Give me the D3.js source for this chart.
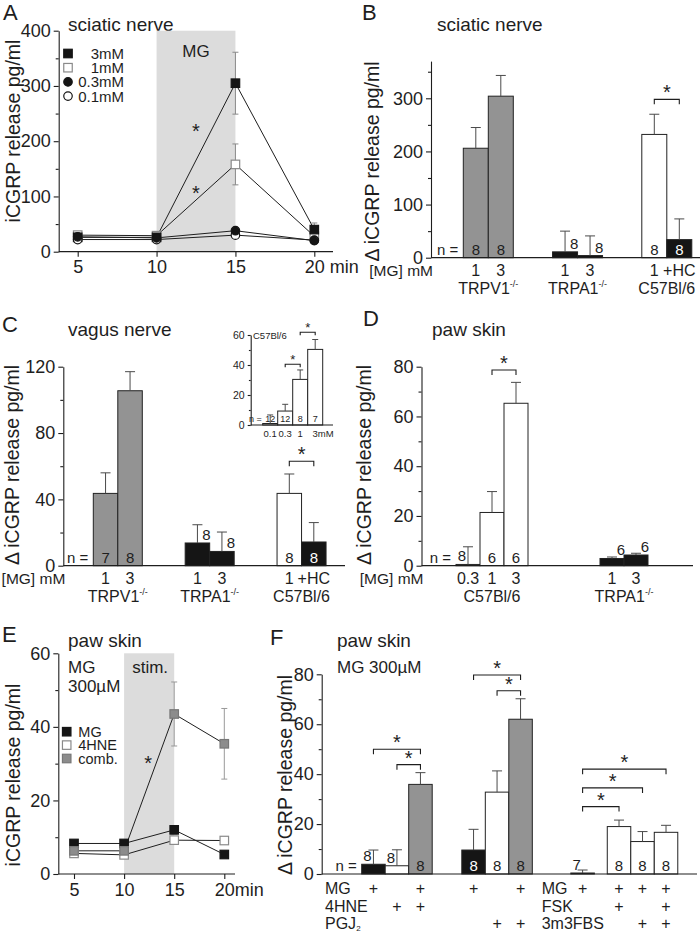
<!DOCTYPE html>
<html><head><meta charset="utf-8">
<script src="https://cdn.jsdelivr.net/npm/d3@7/dist/d3.min.js"></script>
<style>
html,body{margin:0;padding:0;background:#fff;}
svg{display:block;}
svg text{font-family:"Liberation Sans",Arial,Helvetica,sans-serif;fill:#1e1e1e;}
</style></head><body>
<svg id="fig" width="700" height="934" xmlns="http://www.w3.org/2000/svg"></svg>
<script>
// ================= DATA =================
const timePoints = [5, 10, 15, 20];

// Panel A – sciatic nerve time course (iCGRP pg/ml)
const aLabels = ["3mM", "1mM", "0.3mM", "0.1mM"];
const a3mM = [26, 26, 305, 40];
const a3mMErr = [4, 4, 56, 12];
const a1mM = [30, 29, 158, 28];
const a1mMErr = [5, 6, 37, 5];
const a03mM = [27, 25, 38, 20];
const a03mMErr = [3, 3, 4, 3];
const a01mM = [22, 22, 30, 21];
const a01mMErr = [3, 3, 4, 3];
const aYTicks = [0, 100, 200, 300, 400];
const aYMinor = [50, 150, 250, 350];

// Panel B – sciatic nerve, delta release
const bGroups = ["TRPV1", "TRPA1", "C57Bl/6"];
const bGroupSup = ["-/-", "-/-", ""];
const bGroupSizes = [2, 2, 2];
const bDose = ["1", "3", "1", "3", "1", "+HC"];
const bValues = [206, 304, 11, 4, 232, 34];
const bErr = [39, 39, 39, 37, 38, 39];
const bN = [8, 8, 8, 8, 8, 8];
const bYTicks = [0, 100, 200, 300];
const bYMinor = [50, 150, 250, 350];
const bSig = [[4, 5, 298]];

// Panel C – vagus nerve
const cGroups = ["TRPV1", "TRPA1", "C57Bl/6"];
const cGroupSup = ["-/-", "-/-", ""];
const cGroupSizes = [2, 2, 2];
const cDose = ["1", "3", "1", "3", "1", "+HC"];
const cValues = [43.6, 105.5, 13.7, 8.6, 43.6, 14.3];
const cErr = [12.4, 11.5, 11, 11.7, 11.7, 11.7];
const cN = [7, 8, 8, 8, 8, 8];
const cYTicks = [0, 40, 80, 120];
const cYMinor = [20, 60, 100];
const cSig = [[4, 5, 63]];
// inset (C57Bl/6 dose response)
const insetDose = ["0.1", "0.3", "1", "3"];
const insetValues = [1, 9.3, 30.4, 50.4];
const insetErr = [5.7, 4.5, 6.3, 6.6];
const insetN = [12, 12, 8, 7];
const insetYTicks = [0, 20, 40, 60];
const insetYMinor = [10, 30, 50];
const insetSig = [[1, 2, 40.5], [2, 3, 61.8]];

// Panel D – paw skin
const dGroups = ["C57Bl/6", "TRPA1"];
const dGroupSup = ["", "-/-"];
const dGroupSizes = [3, 2];
const dDose = ["0.3", "1", "3", "1", "3"];
const dValues = [0.5, 21.4, 65.3, 2.9, 4.3];
const dErr = [7.1, 8.4, 8.4, 0.6, 0.7];
const dN = [8, 6, 6, 6, 6];
const dYTicks = [0, 20, 40, 60, 80];
const dYMinor = [10, 30, 50, 70];
const dSig = [[1, 2, 78.7]];

// Panel E – paw skin time course
const eLabels = ["MG", "4HNE", "comb."];
const eMG = [8.3, 8.3, 12, 5.3];
const eMGErr = [0.8, 0.8, 1.1, 0.5];
const e4HNE = [5.6, 5.2, 9.2, 9.1];
const e4HNEErr = [0.5, 0.5, 0.7, 0.6];
const eComb = [6.3, 6.3, 43.5, 35.4];
const eCombErr = [0.8, 0.8, 8.7, 9.6];
const eYTicks = [0, 20, 40, 60];
const eYMinor = [10, 30, 50];

// Panel F – paw skin combinations
const fGroupSizes = [3, 3, 4];
const fValues = [3.9, 3.3, 35.9, 9.6, 32.8, 62, 0.4, 19, 13, 16.7];
const fErr = [5.7, 6.4, 4.7, 8.3, 8.5, 8.2, 1.2, 2.6, 4, 2.8];
const fN = [8, 8, 8, 8, 8, 8, 7, 8, 8, 8];
const fRowNamesLeft = ["MG", "4HNE", "PGJ"];
const fRowNamesRight = ["MG", "FSK", "3m3FBS"];
const fRow1 = [1, 0, 1, 1, 0, 1, 1, 1, 1, 1];
const fRow2 = [0, 1, 1, 0, 0, 0, 0, 1, 0, 1];
const fRow3 = [0, 0, 0, 0, 1, 1, 0, 0, 1, 1];
const fYTicks = [0, 20, 40, 60, 80];
const fYMinor = [10, 30, 50, 70];
const fSig = [[0, 2, 50], [1, 2, 43.8], [3, 5, 79.7], [4, 5, 73.4], [6, 7, 27], [6, 8, 34.5], [6, 9, 42]];

// ================= DRAWING =================
const svg = d3.select("#fig");
const INK = "#1e1e1e", ERRC = "#4a4a4a", GREY = "#939393", SHADE = "#dcdcdc", BLACK = "#151515";

function T(x, y, s, fs, anchor) {
  return svg.append("text").attr("x", x).attr("y", y).attr("font-size", fs)
    .attr("text-anchor", anchor || "start").text(s);
}
function ylab(x, y, s) {
  svg.append("text").attr("transform", `translate(${x},${y}) rotate(-90)`)
    .attr("text-anchor", "middle").attr("font-size", 19.5).text(s);
}
function yAxis(x0, y, major, minor, fs, tick) {
  const g = svg.append("g").attr("transform", `translate(${x0},0)`)
    .call(d3.axisLeft(y).tickValues(major).tickSize(tick).tickSizeOuter(0).tickPadding(3));
  g.attr("font-size", fs);
  g.selectAll("path,line").attr("stroke", INK).attr("stroke-width", 1.1);
  const m = svg.append("g").attr("transform", `translate(${x0},0)`)
    .call(d3.axisLeft(y).tickValues(minor).tickSize(tick * 0.6).tickFormat(""));
  m.select(".domain").remove();
  m.selectAll("line").attr("stroke", INK).attr("stroke-width", 1.1);
}
function hline(x1, x2, y) {
  svg.append("line").attr("x1", x1).attr("x2", x2).attr("y1", y).attr("y2", y)
    .attr("stroke", INK).attr("stroke-width", 1.2);
}
function marker(shape, cx, cy, size, fill, stroke) {
  if (shape === "square") {
    svg.append("rect").attr("x", cx - size / 2).attr("y", cy - size / 2).attr("width", size).attr("height", size)
      .attr("fill", fill).attr("stroke", stroke).attr("stroke-width", 1.2);
  } else {
    svg.append("circle").attr("cx", cx).attr("cy", cy).attr("r", size / 2)
      .attr("fill", fill).attr("stroke", stroke).attr("stroke-width", 1.2);
  }
}
function timeAxis(x, y0, xLeft, xRight, suffix) {
  hline(xLeft, xRight, y0);
  const g = svg.append("g").attr("transform", `translate(0,${y0})`)
    .call(d3.axisBottom(x).tickValues(timePoints).tickSize(5).tickPadding(4));
  g.select(".domain").remove();
  g.attr("font-size", 18);
  g.selectAll("line").attr("stroke", INK).attr("stroke-width", 1.1);
  const texts = g.selectAll(".tick text").nodes();
  const last = d3.select(texts[texts.length - 1]);
  const w = last.node().getComputedTextLength();
  last.attr("text-anchor", "start").attr("x", -w / 2).append("tspan").text(suffix);
}
function linePanel(x, y, vals, errs, styles, errColor, order, size) {
  const line = d3.line().x((d, i) => x(timePoints[i])).y(d => y(d));
  vals.forEach(v => svg.append("path").attr("d", line(v)).attr("fill", "none")
    .attr("stroke", INK).attr("stroke-width", 1));
  vals.forEach((v, si) => v.forEach((d, i) => {
    const e = errs[si][i], cx = x(timePoints[i]);
    svg.append("path")
      .attr("d", `M${cx - 3},${y(d + e)}H${cx + 3}M${cx},${y(d + e)}V${y(d - e)}M${cx - 3},${y(d - e)}H${cx + 3}`)
      .attr("stroke", errColor).attr("fill", "none").attr("stroke-width", 1);
  }));
  order.forEach(si => vals[si].forEach((d, i) => {
    const s = styles[si];
    marker(s.shape, x(timePoints[i]), y(d), size, s.fill, s.stroke);
  }));
}
function computeSlots(groupSizes, gaps, innerGaps) {
  const slots = []; let s = 0;
  groupSizes.forEach((n, gi) => {
    if (gi > 0) s += gaps[gi - 1];
    for (let i = 0; i < n; i++) {
      if (i === 1 && innerGaps && innerGaps[gi]) s += innerGaps[gi];
      slots.push(s); s += 1;
    }
  });
  return slots;
}
function barPanel(P) {
  const slots = computeSlots(P.groupSizes, P.gaps, P.innerGaps);
  const xs = d3.scaleLinear().domain([0, 1]).range([P.x0, P.x0 + P.bw]);
  const y = P.y, y0 = y(0);
  const cx = i => xs(slots[i] + 0.5);
  svg.append("g").selectAll("rect").data(P.values).join("rect")
    .attr("x", (d, i) => xs(slots[i])).attr("y", d => y(d))
    .attr("width", P.bw).attr("height", d => y0 - y(d))
    .attr("fill", (d, i) => P.fills[i]).attr("stroke", "#222").attr("stroke-width", 1);
  P.values.forEach((v, i) => {
    const t = y(v + P.errs[i]), c = cx(i);
    svg.append("path").attr("d", `M${c},${y(v)}V${t}M${c - P.cap},${t}H${c + P.cap}`)
      .attr("stroke", ERRC).attr("fill", "none").attr("stroke-width", 1);
  });
  hline(P.axisX, P.right, y0);
  yAxis(P.axisX, y, P.major, P.minor, P.tickFs, P.tick);
  T(xs(slots[0]) - P.nGap, y0 - 3, "n =", P.nFs, "end");
  P.ns.forEach((n, i) => {
    const pos = P.nPos[i];
    let xx = cx(i), yy = y0 - 3;
    if (pos === "r") { xx = cx(i) + P.nFs * 0.6; yy = y(P.values[i]) - 3; }
    if (pos === "l") { xx = cx(i) - P.nFs * 0.4; yy = y(P.values[i]) - 3; }
    const t = T(xx, yy, n, P.nFs, "middle");
    if (pos === "in" && P.fills[i] === BLACK) t.style("fill", "#fff");
  });
  P.sig.forEach(([i, j, lv]) => {
    const yy = y(lv);
    svg.append("path").attr("d", `M${cx(i)},${yy + P.brTick}V${yy}H${cx(j)}V${yy + P.brTick}`)
      .attr("stroke", INK).attr("fill", "none").attr("stroke-width", 1.1);
    T((cx(i) + cx(j)) / 2, yy, "*", P.starFs, "middle");
  });
  if (P.dose) {
    P.dose.forEach((d, i) => {
      const t = T(cx(i), y0 + P.doseDy, d, P.labFs, "middle");
      if (P.doseSuffix && i === P.dose.length - 1) {
        const w = t.node().getComputedTextLength();
        t.attr("text-anchor", "start").attr("x", cx(i) - w / 2).append("tspan").text(P.doseSuffix);
      }
    });
  }
  if (P.doseHeader) T(P.axisX + 2, y0 + P.doseDy, P.doseHeader, P.labFs - 0.5, "end");
  if (P.groups) {
    let k = 0;
    P.groups.forEach((g, gi) => {
      const a = k, b = k + P.groupSizes[gi] - 1; k += P.groupSizes[gi];
      const mid = (xs(slots[a]) + xs(slots[b] + 1)) / 2;
      const t = T(mid, y0 + P.groupDy, g, P.labFs, "middle");
      if (P.groupSup[gi]) t.append("tspan").attr("font-size", 9).attr("dy", -7).text(P.groupSup[gi]);
    });
  }
  return { cx, y0 };
}

// ---------- Panel letters & titles ----------
T(3, 20, "A", 22); T(362, 20, "B", 22); T(2, 332, "C", 22);
T(363, 326, "D", 22); T(2, 642, "E", 22); T(270, 645, "F", 22);
T(68, 31, "sciatic nerve", 19); T(437, 31, "sciatic nerve", 19);
T(68, 336, "vagus nerve", 19); T(432, 336, "paw skin", 19);
T(68, 646.5, "paw skin", 19); T(337, 646.5, "paw skin", 19);
T(68, 673, "MG", 17); T(68, 692, "300µM", 17); T(337, 673, "MG 300µM", 17);

// ---------- Panel A ----------
{
  const x = d3.scaleLinear().domain([5, 20]).range([77.7, 314.3]);
  const y = d3.scaleLinear().domain([0, 400]).range([251.7, 30.7]);
  svg.append("rect").attr("x", x(10)).attr("y", y(400)).attr("width", x(15) - x(10))
    .attr("height", y(0) - y(400)).attr("fill", SHADE);
  T(x(12.5), y(353), "MG", 17, "middle");
  timeAxis(x, y(0), 58.7, 333, " min");
  yAxis(58.7, y, aYTicks, aYMinor, 18, 5);
  ylab(20, 131, "iCGRP release pg/ml");
  const styles = [
    { shape: "square", fill: BLACK, stroke: BLACK },
    { shape: "square", fill: "#fff", stroke: "#8a8a8a" },
    { shape: "circle", fill: BLACK, stroke: BLACK },
    { shape: "circle", fill: "#fff", stroke: BLACK }];
  linePanel(x, y, [a3mM, a1mM, a03mM, a01mM], [a3mMErr, a1mMErr, a03mMErr, a01mMErr],
    styles, "#8a8a8a", [1, 0, 3, 2], 8.5);
  T(x(12.5), y(205), "*", 20, "middle");
  T(x(12.5), y(92.7), "*", 20, "middle");
  aLabels.forEach((l, i) => {
    const cy = 53.5 + i * 14.2;
    marker(styles[i].shape, 68, cy, 8.5, styles[i].fill, styles[i].stroke);
    T(124, cy + 5.5, l, 15, "end");
  });
}

// ---------- Panel B ----------
barPanel({
  axisX: 431, right: 700, y: d3.scaleLinear().domain([0, 370]).range([257.7, 61.1]),
  major: bYTicks, minor: bYMinor, tickFs: 18, tick: 5,
  x0: 463.3, bw: 25, groupSizes: bGroupSizes, gaps: [1.57, 1.57],
  values: bValues, errs: bErr, ns: bN, fills: [GREY, GREY, BLACK, BLACK, "#fff", BLACK],
  nPos: ["in", "in", "r", "r", "in", "in"], nFs: 15, nGap: 5, cap: 5,
  sig: bSig, starFs: 20, brTick: 5,
  dose: bDose, doseDy: 18.5, doseHeader: "[MG] mM", labFs: 16,
  groups: bGroups, groupSup: bGroupSup, groupDy: 36
});
ylab(379, 161.5, "Δ iCGRP release pg/ml");

// ---------- Panel C ----------
barPanel({
  axisX: 63.3, right: 345, y: d3.scaleLinear().domain([0, 120]).range([565.7, 366.7]),
  major: cYTicks, minor: cYMinor, tickFs: 18, tick: 5,
  x0: 93.3, bw: 24.5, groupSizes: cGroupSizes, gaps: [1.75, 1.75],
  values: cValues, errs: cErr, ns: cN, fills: [GREY, GREY, BLACK, BLACK, "#fff", BLACK],
  nPos: ["in", "in", "r", "r", "in", "in"], nFs: 15, nGap: 5, cap: 5,
  sig: cSig, starFs: 20, brTick: 5,
  dose: cDose, doseDy: 18.5, doseHeader: "[MG] mM", labFs: 16,
  groups: cGroups, groupSup: cGroupSup, groupDy: 36.5
});
ylab(18.5, 465, "Δ iCGRP release pg/ml");
// inset
barPanel({
  axisX: 250.7, right: 333, y: d3.scaleLinear().domain([0, 60]).range([425, 335]),
  major: insetYTicks, minor: insetYMinor, tickFs: 10.5, tick: 3,
  x0: 262.7, bw: 15, groupSizes: [4], gaps: [],
  values: insetValues, errs: insetErr, ns: insetN, fills: ["#fff", "#fff", "#fff", "#fff"],
  nPos: ["in", "in", "in", "in"], nFs: 9, nGap: 1, cap: 3,
  sig: insetSig, starFs: 13, brTick: 3,
  dose: insetDose, doseSuffix: "mM", doseDy: 12, labFs: 9.5
});
T(253, 338.5, "C57Bl/6", 9.5);

// ---------- Panel D ----------
barPanel({
  axisX: 421.5, right: 693, y: d3.scaleLinear().domain([0, 80]).range([565.7, 366.7]),
  major: dYTicks, minor: dYMinor, tickFs: 18, tick: 5,
  x0: 456, bw: 24, groupSizes: dGroupSizes, gaps: [3],
  values: dValues, errs: dErr, ns: dN, fills: ["#fff", "#fff", "#fff", BLACK, BLACK],
  nPos: ["l", "in", "in", "r", "r"], nFs: 15, nGap: 5, cap: 5,
  sig: dSig, starFs: 20, brTick: 5,
  dose: dDose, doseDy: 18.5, doseHeader: "[MG] mM", labFs: 16,
  groups: dGroups, groupSup: dGroupSup, groupDy: 36.5
});
ylab(371, 465, "Δ iCGRP release pg/ml");

// ---------- Panel E ----------
{
  const x = d3.scaleLinear().domain([5, 20]).range([74, 224.3]);
  const y = d3.scaleLinear().domain([0, 60]).range([874, 653.3]);
  svg.append("rect").attr("x", x(10)).attr("y", y(60)).attr("width", x(15) - x(10))
    .attr("height", y(0) - y(60)).attr("fill", SHADE);
  T(x(12.6), y(54.6), "stim.", 17, "middle");
  timeAxis(x, y(0), 58.3, 235, "min");
  yAxis(58.3, y, eYTicks, eYMinor, 18, 5);
  ylab(20, 775, "iCGRP release pg/ml");
  const styles = [
    { shape: "square", fill: BLACK, stroke: BLACK },
    { shape: "square", fill: "#fff", stroke: "#8a8a8a" },
    { shape: "square", fill: "#8c8c8c", stroke: "#777" }];
  linePanel(x, y, [eMG, e4HNE, eComb], [eMGErr, e4HNEErr, eCombErr], styles, "#999", [0, 1, 2], 8.5);
  T(x(12.4), y(28.4), "*", 20, "middle");
  eLabels.forEach((l, i) => {
    const cy = 731.7 + i * 13.4;
    marker("square", 66.7, cy, 8.5, styles[i].fill, styles[i].stroke);
    T(78.3, cy + 5, l, 14.5);
  });
}

// ---------- Panel F ----------
{
  const r = barPanel({
    axisX: 321.7, right: 697, y: d3.scaleLinear().domain([0, 80]).range([874, 674.3]),
    major: fYTicks, minor: fYMinor, tickFs: 18, tick: 5,
    x0: 361.7, bw: 23.5, groupSizes: fGroupSizes, gaps: [1.26, 1.64], innerGaps: [0, 0, 0.55],
    values: fValues, errs: fErr, ns: fN,
    fills: [BLACK, "#fff", GREY, BLACK, "#fff", GREY, BLACK, "#fff", "#fff", "#fff"],
    nPos: ["l", "l", "in", "in", "in", "in", "l", "in", "in", "in"], nFs: 15, nGap: 5, cap: 5,
    sig: fSig, starFs: 20, brTick: 5
  });
  ylab(292, 775, "Δ iCGRP release pg/ml");
  const rows = [fRow1, fRow2, fRow3];
  const rowDy = [19.5, 37.5, 54.5];
  rows.forEach((row, ri) => {
    row.forEach((v, i) => { if (v) T(r.cx(i), r.y0 + rowDy[ri], "+", 16, "middle"); });
    const tl = T(325, r.y0 + rowDy[ri], fRowNamesLeft[ri], 16);
    if (ri === 2) tl.append("tspan").attr("font-size", 8).attr("dy", 2).text("2");
    T(541.7, r.y0 + rowDy[ri], fRowNamesRight[ri], 16);
  });
}
</script></body></html>
